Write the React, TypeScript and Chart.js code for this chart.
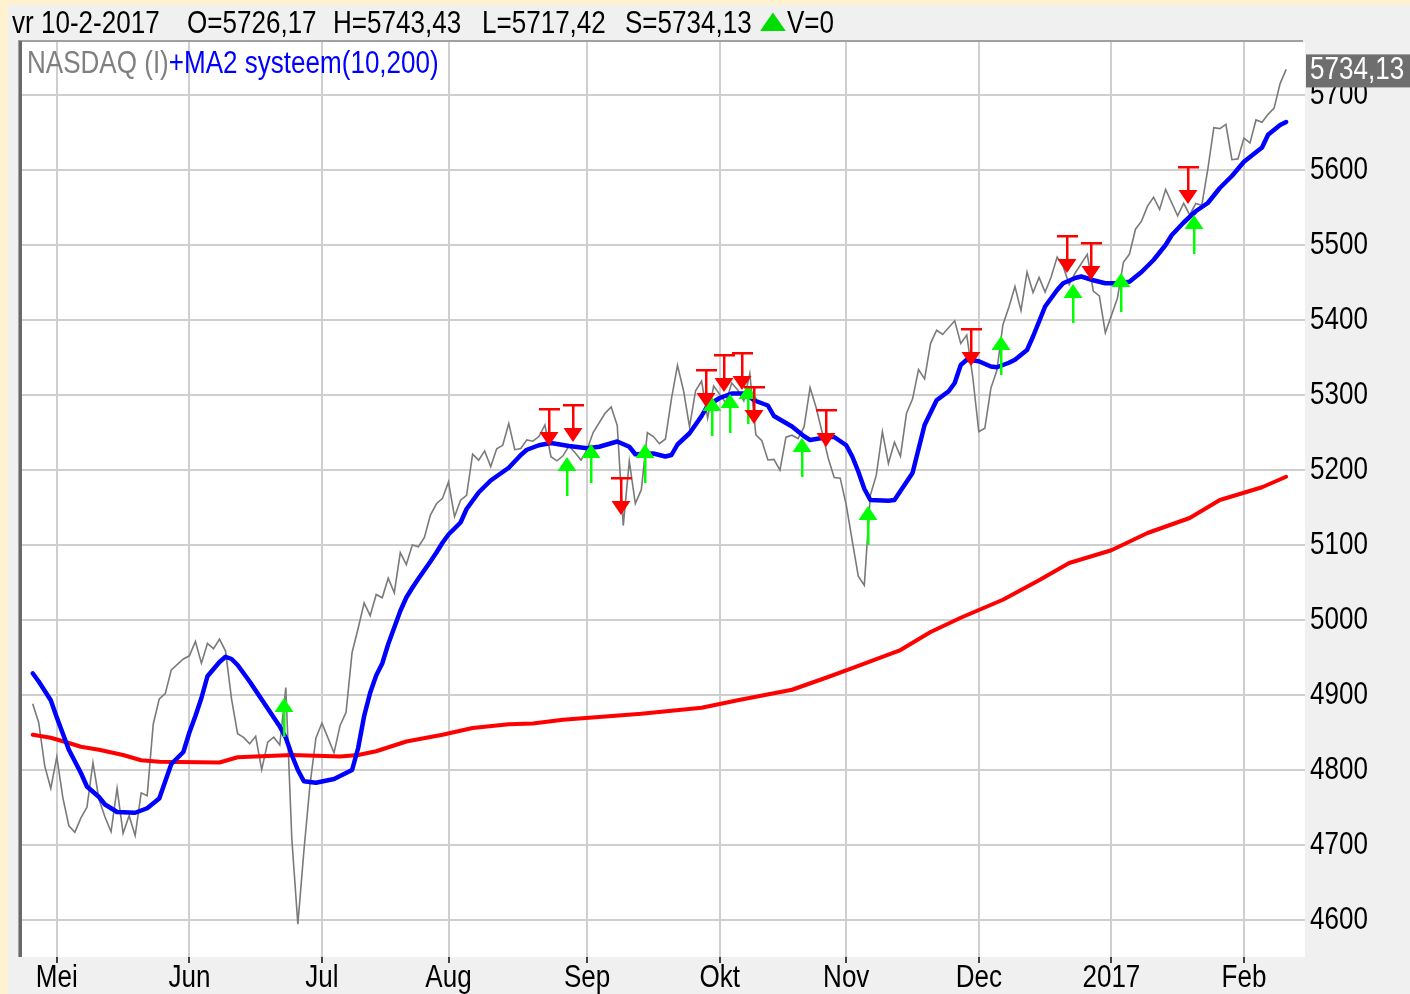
import React, { useEffect, useRef } from 'react';
import { Chart, registerables } from 'chart.js';

Chart.register(...registerables);

const FONT = "'Liberation Sans', Arial, sans-serif";
const NARROW = 0.84;

// Daily closes, one slot per weekday (26-4-2016 .. 10-2-2017); null = US market holiday
const closes: (number | null)[] = [
  4888.28, 4863.14, 4805.29, 4775.36,
  4817.59, 4763.22, 4725.64, 4717.09, 4736.16,
  4750.21, 4809.88, 4760.69, 4737.33, 4717.68,
  4775.46, 4715.73, 4739.12, 4712.53, 4769.56,
  4765.78, 4861.06, 4894.89, 4901.77, 4933.5,
  null, 4948.05, 4952.25, 4971.36, 4942.52,
  4968.71, 4961.75, 4974.64, 4958.62, 4894.55,
  4848.44, 4843.55, 4834.93, 4844.92, 4800.34,
  4837.21, 4843.76, 4833.32, 4910.04, 4707.98,
  4594.44, 4691.87, 4779.25, 4842.67, 4862.57,
  null, 4822.9, 4859.16, 4876.81, 4956.76,
  4988.64, 5022.82, 5005.73, 5034.06, 5029.59,
  5055.78, 5036.37, 5089.93, 5073.9, 5100.16,
  5097.63, 5110.05, 5139.81, 5154.98, 5162.13,
  5184.2, 5137.73, 5159.74, 5166.25, 5221.12,
  5213.14, 5225.48, 5204.58, 5228.4, 5232.89,
  5262.02, 5227.11, 5228.66, 5240.15, 5238.38,
  5244.6, 5260.08, 5217.69, 5212.2, 5218.92,
  5232.33, 5222.99, 5213.22, 5227.21, 5249.9,
  null, 5275.91, 5283.93, 5259.48, 5125.91,
  5211.89, 5155.25, 5173.77, 5249.69, 5244.57,
  5235.03, 5241.35, 5295.18, 5339.52, 5305.75,
  5257.49, 5305.71, 5318.55, 5269.15, 5312.0,
  5300.87, 5289.66, 5316.02, 5306.85, 5292.4,
  5328.67, 5246.79, 5239.02, 5213.33, 5214.16,
  5199.82, 5243.84, 5246.41, 5241.83, 5257.4,
  5309.83, 5283.4, 5250.27, 5215.97, 5190.1,
  5189.13, 5153.58, 5105.57, 5058.41, 5046.37,
  5166.17, 5193.49, 5251.07, 5208.8, 5237.11,
  5218.4, 5275.62, 5294.58, 5333.97, 5321.51,
  5368.86, 5386.35, 5380.68, null, 5398.92,
  5368.81, 5379.92, 5323.68, 5251.11, 5255.65,
  5308.89, 5333.0, 5393.76, 5417.36, 5444.5,
  5412.54, 5463.83, 5436.67, 5456.85, 5437.16,
  5457.44, 5483.94, 5471.43, 5447.42, 5462.69,
  null, 5487.44, 5438.56, 5432.09, 5383.12,
  null, 5429.08, 5477.0, 5487.94, 5521.06,
  5531.82, 5551.82, 5563.65, 5547.49, 5574.12,
  null, 5538.73, 5555.65, 5540.08, 5555.33,
  5552.94, 5600.96, 5656.34, 5655.18, 5660.78,
  5613.71, 5614.79, 5642.65, 5636.2, 5666.77,
  5663.55, 5674.22, 5682.45, 5715.18, 5734.13,
];

// MA(10) (weekday slot, value)
const ma10Days = [
  0, 1, 3, 4, 6, 8, 9, 11, 12, 14, 17, 19, 21, 22, 23, 25, 26, 27, 28, 29, 31, 32, 33, 34, 36, 37, 39, 41, 42, 43,
  44, 45, 47, 50, 51, 52, 53, 54, 55, 56, 57, 58, 59, 60, 61, 62, 63, 64, 66, 67, 68, 69, 71, 72, 74, 76, 79, 81, 82, 84,
  86, 89, 91, 92, 94, 97, 99, 100, 103, 105, 106, 107, 109, 111, 112, 114, 116, 118, 120, 122, 123, 126, 128, 129, 132, 133, 135, 136, 137, 138,
  139, 142, 143, 144, 146, 147, 148, 150, 152, 153, 154, 155, 157, 159, 160, 162, 163, 165, 166, 167, 168, 170, 171, 173, 174, 176, 178, 180, 182, 184,
  186, 188, 189, 191, 193, 195, 197, 199, 201, 204, 205, 207, 208,
];
const ma10Values = [
  4929, 4918, 4893, 4870, 4827, 4796, 4778, 4764, 4754, 4744, 4743, 4749, 4762, 4785, 4808, 4824, 4850, 4872, 4896, 4925, 4944, 4951, 4948, 4940, 4918, 4906, 4882, 4858, 4843, 4820,
  4800, 4785, 4783, 4788, 4792, 4796, 4800, 4829, 4872, 4903, 4926, 4942, 4968, 4990, 5012, 5030, 5043, 5055, 5078, 5090, 5103, 5114, 5130, 5148, 5170, 5186, 5203, 5220, 5227, 5233,
  5236, 5232, 5230, 5229, 5231, 5238, 5231, 5221, 5222, 5218, 5220, 5234, 5249, 5272, 5286, 5296, 5302, 5302, 5292, 5286, 5272, 5258, 5245, 5240, 5244, 5244, 5233, 5218, 5198, 5175,
  5160, 5159, 5160, 5172, 5196, 5228, 5260, 5293, 5305, 5316, 5340, 5347, 5345, 5338, 5337, 5343, 5347, 5360, 5378, 5398, 5418, 5440, 5449, 5456, 5458, 5453, 5449, 5449, 5451, 5464,
  5480, 5500, 5513, 5530, 5545, 5556, 5576, 5592, 5611, 5630, 5647, 5660, 5664,
];

// MA(200)
const ma200Days = [0, 3, 6, 8, 11, 15, 18, 21, 31, 34, 43, 51, 54, 57, 62, 68, 73, 79, 83, 88, 101, 111, 117, 126, 132, 136, 144, 149, 154, 161, 167, 172, 179, 185, 192, 197, 204, 208];
const ma200Values = [4847, 4843, 4836, 4831, 4827, 4820, 4813, 4811, 4810, 4817, 4820, 4818, 4820, 4825, 4838, 4847, 4856, 4861, 4862, 4867, 4875, 4883, 4893, 4907, 4924, 4936, 4960, 4984, 5003, 5027, 5053, 5076, 5093, 5116, 5136, 5160, 5177, 5191];

// Signals (weekday slot)
const buyDays = [42, 89, 93, 102, 113, 116, 119, 128, 139, 161, 173, 181, 193];
const sellDays = [86, 90, 98, 112, 115, 118, 120, 132, 156, 172, 176, 192];

const monthTickDays = [4, 26, 48, 69, 92, 114, 135, 157, 179, 201];
const monthLabels = ['Mei', 'Jun', 'Jul', 'Aug', 'Sep', 'Okt', 'Nov', 'Dec', '2017', 'Feb'];
const priceTicks = [4600, 4700, 4800, 4900, 5000, 5100, 5200, 5300, 5400, 5500, 5600, 5700];

const header = [
  { text: 'vr 10-2-2017', left: 12 },
  { text: 'O=5726,17', left: 187 },
  { text: 'H=5743,43', left: 333 },
  { text: 'L=5717,42', left: 482 },
  { text: 'S=5734,13', left: 625 },
  { text: 'V=0', left: 787 },
];

function narrowText(ctx: CanvasRenderingContext2D, text: string, x: number, y: number, align: 'left' | 'center') {
  ctx.save();
  ctx.translate(x, y);
  ctx.scale(NARROW, 1);
  ctx.textAlign = align;
  ctx.textBaseline = 'middle';
  ctx.fillText(text, 0, 0);
  ctx.restore();
}

const framePlugin = {
  id: 'frame',
  beforeDraw(chart: any) {
    const { ctx, chartArea: a } = chart;
    ctx.save();
    ctx.fillStyle = '#ffffff';
    ctx.fillRect(a.left, a.top, a.right - a.left, a.bottom - a.top);
    ctx.fillStyle = '#a0a0a0';
    ctx.fillRect(a.left - 3, a.top - 2, a.right - a.left + 1, 2);
    ctx.fillRect(a.left - 4, a.top - 2, 1, a.bottom - a.top + 2);
    ctx.fillStyle = '#696969';
    ctx.fillRect(a.left - 3, a.top - 1, 3, a.bottom - a.top + 1);
    ctx.restore();
  },
};

const signalPlugin = {
  id: 'signals',
  afterDatasetsDraw(chart: any) {
    const { ctx, chartArea: a } = chart;
    const xs = chart.scales.x;
    const ys = chart.scales.y;
    ctx.save();
    ctx.beginPath();
    ctx.rect(a.left, a.top, a.right - a.left, a.bottom - a.top);
    ctx.clip();
    ctx.fillStyle = '#00ff00';
    buyDays.forEach((d) => {
      const x = Math.round(xs.getPixelForValue(d)) - 2;
      const tip = Math.round(ys.getPixelForValue(closes[d] as number)) + 11;
      ctx.beginPath();
      ctx.moveTo(x, tip);
      ctx.lineTo(x + 9.5, tip + 14);
      ctx.lineTo(x - 9.5, tip + 14);
      ctx.closePath();
      ctx.fill();
      ctx.fillRect(x - 1, tip + 13, 2.5, 26);
    });
    ctx.fillStyle = '#ff0000';
    sellDays.forEach((d) => {
      const x = Math.round(xs.getPixelForValue(d)) - 2;
      const tip = Math.round(ys.getPixelForValue(closes[d] as number)) - 11;
      ctx.beginPath();
      ctx.moveTo(x, tip);
      ctx.lineTo(x + 9.5, tip - 14);
      ctx.lineTo(x - 9.5, tip - 14);
      ctx.closePath();
      ctx.fill();
      ctx.fillRect(x - 1, tip - 37, 2.5, 24);
      ctx.fillRect(x - 10, tip - 38, 21, 2.5);
    });
    ctx.restore();
  },
  afterDraw(chart: any) {
    const { ctx, chartArea: a } = chart;
    const xs = chart.scales.x;
    const ys = chart.scales.y;
    ctx.save();
    ctx.font = `31px ${FONT}`;
    ctx.fillStyle = '#000000';
    priceTicks.forEach((v) => narrowText(ctx, String(v), a.right + 5, ys.getPixelForValue(v), 'left'));
    monthTickDays.forEach((d, i) => narrowText(ctx, monthLabels[i], xs.getPixelForValue(d), a.bottom + 21.5, 'center'));
    const last = closes[closes.length - 1] as number;
    const yc = ys.getPixelForValue(last);
    ctx.fillStyle = '#6e6e6e';
    ctx.fillRect(a.right + 1, yc - 15, chart.width - a.right - 1, 33);
    ctx.fillStyle = '#ffffff';
    narrowText(ctx, last.toFixed(2).replace('.', ','), a.right + 5, yc + 1, 'left');
    ctx.restore();
  },
};

export default function App() {
  const canvasRef = useRef<HTMLCanvasElement | null>(null);

  useEffect(() => {
    document.body.style.margin = '0';
    const canvas = canvasRef.current;
    if (!canvas) return;
    const chart = new Chart(canvas, {
      type: 'line',
      data: {
        datasets: [
          {
            label: 'MA10',
            data: ma10Days.map((d, i) => ({ x: d, y: ma10Values[i] })),
            borderColor: '#0000ff',
            borderWidth: 4.5,
            pointRadius: 0,
            borderJoinStyle: 'round',
            borderCapStyle: 'round',
            order: 0,
          },
          {
            label: 'MA200',
            data: ma200Days.map((d, i) => ({ x: d, y: ma200Values[i] })),
            borderColor: '#ff0000',
            borderWidth: 4,
            pointRadius: 0,
            borderJoinStyle: 'round',
            borderCapStyle: 'round',
            order: 1,
          },
          {
            label: 'NASDAQ',
            data: closes.map((v, i) => ({ x: i, y: v })),
            borderColor: '#7a7a7a',
            borderWidth: 1.6,
            pointRadius: 0,
            spanGaps: true,
            order: 2,
          },
        ],
      } as any,
      options: {
        animation: false,
        responsive: false,
        devicePixelRatio: 1,
        layout: { padding: { left: 22, top: 42, right: 0, bottom: 0 } },
        plugins: { legend: { display: false }, tooltip: { enabled: false } },
        scales: {
          x: {
            type: 'linear',
            position: 'bottom',
            min: -1.776,
            max: 211.13,
            afterBuildTicks: (s: any) => {
              s.ticks = monthTickDays.map((v) => ({ value: v }));
            },
            afterFit: (s: any) => {
              s.height = 37;
            },
            ticks: { display: false },
            grid: {
              color: '#cfcfcf',
              lineWidth: 2,
              drawTicks: true,
              tickLength: 6,
              tickColor: '#404040',
              tickWidth: 2,
            },
            border: { display: false },
          },
          y: {
            type: 'linear',
            position: 'right',
            min: 4550.67,
            max: 5770.67,
            afterBuildTicks: (s: any) => {
              s.ticks = priceTicks.map((v) => ({ value: v }));
            },
            afterFit: (s: any) => {
              s.width = 105;
            },
            ticks: { display: false },
            grid: { color: '#cfcfcf', lineWidth: 2, drawTicks: false },
            border: { display: false },
          },
        },
      } as any,
      plugins: [framePlugin, signalPlugin],
    });
    return () => chart.destroy();
  }, []);

  const textStyle: React.CSSProperties = {
    position: 'absolute',
    fontFamily: FONT,
    fontSize: 31,
    lineHeight: '31px',
    whiteSpace: 'pre',
    transform: `scaleX(${NARROW})`,
    transformOrigin: 'left top',
  };

  return (
    <div style={{ position: 'relative', width: 1410, height: 994, background: '#fff3cf', overflow: 'hidden' }}>
      <div style={{ position: 'absolute', left: 8, top: 5, right: 0, bottom: 0, background: '#f0f0f0' }} />
      <canvas ref={canvasRef} width={1410} height={994} style={{ position: 'absolute', left: 0, top: 0 }} />
      {header.map((h) => (
        <div key={h.text} style={{ ...textStyle, left: h.left, top: 7, color: '#000000' }}>
          {h.text}
        </div>
      ))}
      <div
        style={{
          ...textStyle,
          left: 760,
          top: 5,
          color: '#00dd00',
          fontFamily: "'DejaVu Sans', sans-serif",
          fontSize: 24,
          transform: 'scaleX(1.4)',
        }}
      >
        ▲
      </div>
      <div style={{ ...textStyle, left: 27, top: 47 }}>
        <span style={{ color: '#808080' }}>NASDAQ (I)</span>
        <span style={{ color: '#0000ff' }}>+MA2 systeem(10,200)</span>
      </div>
    </div>
  );
}
